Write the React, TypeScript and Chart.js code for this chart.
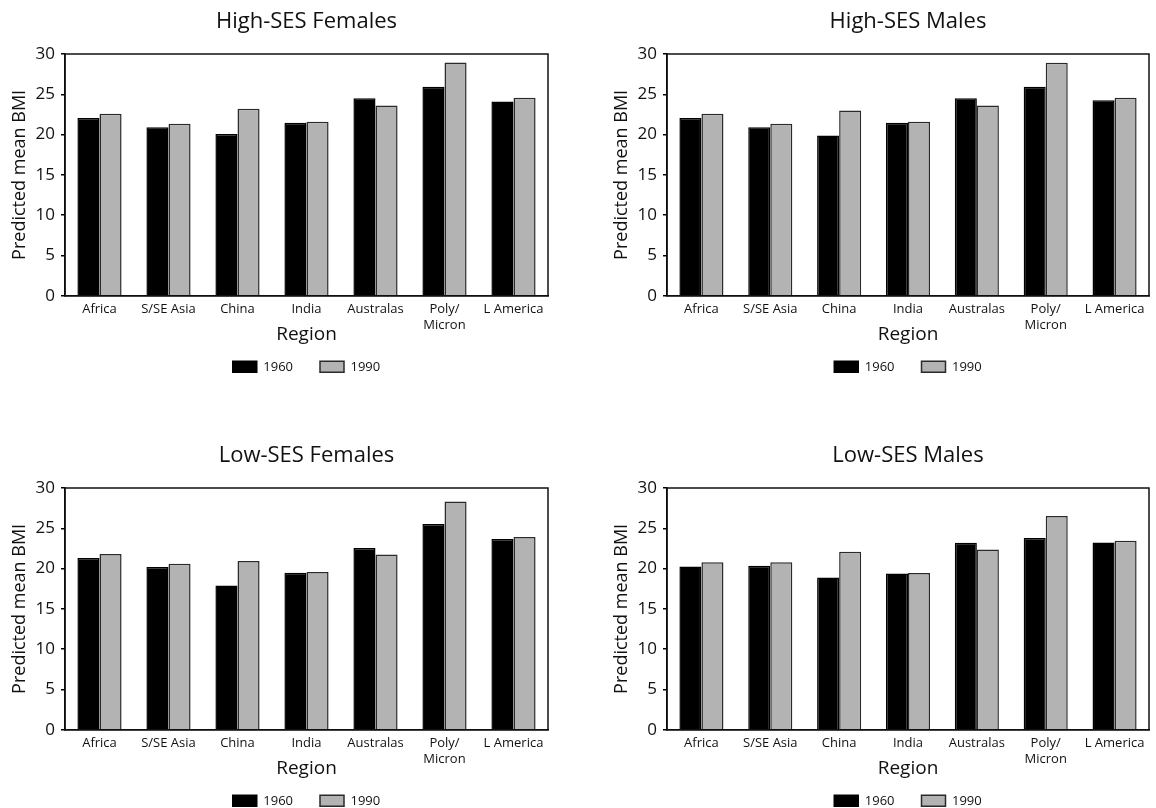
import React, { useEffect, useRef } from "react";
import { Chart, registerables } from "chart.js";

Chart.register(...registerables);

const regions: (string | string[])[] = [
  "Africa",
  "S/SE Asia",
  "China",
  "India",
  "Australas",
  ["Poly/", "Micron"],
  "L America",
];

const seriesLabels = ["1960", "1990"];
const yTicks = [0, 5, 10, 15, 20, 25, 30];

const highFemales1960 = [22.05, 20.9, 20.07, 21.47, 24.5, 25.94, 24.12];
const highFemales1990 = [22.6, 21.35, 23.2, 21.6, 23.6, 28.96, 24.58];
const highMales1960 = [22.05, 20.9, 19.9, 21.47, 24.5, 25.94, 24.25];
const highMales1990 = [22.6, 21.35, 23.0, 21.6, 23.6, 28.92, 24.58];
const lowFemales1960 = [21.3, 20.19, 17.9, 19.49, 22.55, 25.53, 23.67];
const lowFemales1990 = [21.8, 20.6, 20.93, 19.57, 21.76, 28.34, 23.91];
const lowMales1960 = [20.27, 20.36, 18.9, 19.4, 23.2, 23.79, 23.25];
const lowMales1990 = [20.8, 20.8, 22.09, 19.45, 22.38, 26.52, 23.46];

const FONT = "'Open Sans', 'Noto Sans', sans-serif";
const TEXT = "#111";

const framePlugin = {
  id: "frame",
  afterDatasetsDraw(chart: any) {
    const { ctx, chartArea: a } = chart;
    ctx.save();
    ctx.strokeStyle = "#111";
    ctx.lineWidth = 1.5;
    ctx.strokeRect(a.left, a.top, a.right - a.left, a.bottom - a.top);
    ctx.restore();
  },
};

type PanelProps = {
  title: string;
  d1960: number[];
  d1990: number[];
  left: number;
  top: number;
  width: number;
  padRight: number;
};

function Panel({ title, d1960, d1990, left, top, width, padRight }: PanelProps) {
  const ref = useRef<HTMLCanvasElement>(null);
  useEffect(() => {
    if (!ref.current) return;
    const chart = new Chart(ref.current, {
      type: "bar",
      data: {
        labels: regions as any,
        datasets: [
          {
            label: seriesLabels[0],
            data: d1960,
            backgroundColor: "#000000",
            borderColor: "#000000",
            borderWidth: 1.5,
            categoryPercentage: 0.64,
            barPercentage: 1.0,
          },
          {
            label: seriesLabels[1],
            data: d1990,
            backgroundColor: "#b3b3b3",
            borderColor: "#2a2a2a",
            borderWidth: 1.5,
            categoryPercentage: 0.64,
            barPercentage: 1.0,
          },
        ],
      },
      options: {
        responsive: false,
        animation: false,
        events: [],
        layout: { padding: { left: 0, right: padRight, top: 0, bottom: 20.7 } },
        plugins: {
          title: {
            display: true,
            text: title,
            fullSize: false,
            color: TEXT,
            font: { family: FONT, size: 22, weight: "normal" },
            padding: { top: 9, bottom: 18.6 },
          } as any,
          subtitle: {
            display: true,
            text: "Region",
            position: "bottom",
            fullSize: false,
            weight: 500,
            color: TEXT,
            font: { family: FONT, size: 19, weight: "normal" },
            padding: { top: -9.4, bottom: -12.9 },
          } as any,
          legend: {
            position: "bottom",
            fullSize: false,
            weight: 1000,
            labels: {
              boxWidth: 24,
              boxHeight: 11,
              padding: 27,
              color: TEXT,
              font: { family: FONT, size: 13 },
            },
          } as any,
          tooltip: { enabled: false },
        },
        scales: {
          x: {
            grid: { display: false, drawTicks: false },
            border: { display: true, color: "#000", width: 1.5 },
            ticks: {
              color: TEXT,
              font: { family: FONT, size: 13 },
              padding: 6,
              maxRotation: 0,
              autoSkip: false,
            },
            afterFit: (s: any) => {
              s.height = 37;
            },
          },
          y: {
            min: yTicks[0],
            max: yTicks[yTicks.length - 1],
            afterBuildTicks: (s: any) => {
              s.ticks = yTicks.map((v) => ({ value: v }));
            },
            ticks: {
              color: TEXT,
              font: { family: FONT, size: 17 },
              padding: 6,
            },
            grid: {
              drawOnChartArea: false,
              drawTicks: true,
              tickLength: 4,
              color: "#000",
              lineWidth: 1.5,
            },
            border: { display: true, color: "#000", width: 1.5 },
            title: {
              display: true,
              text: "Predicted mean BMI",
              color: TEXT,
              font: { family: FONT, size: 18 },
              padding: { top: 9, bottom: 0 },
            },
            afterFit: (s: any) => {
              s.width = 65;
            },
          },
        },
      } as any,
      plugins: [framePlugin],
    });
    return () => chart.destroy();
  }, []);
  return (
    <canvas
      ref={ref}
      width={width}
      height={404}
      style={{ position: "absolute", left, top, width, height: 404, display: "block" }}
    />
  );
}

export default function App() {
  return (
    <div
      style={{
        position: "absolute",
        left: 0,
        top: 0,
        width: 1156,
        height: 808,
        overflow: "hidden",
        background: "#fff",
      }}
    >
      <Panel title="High-SES Females" d1960={highFemales1960} d1990={highFemales1990} left={0} top={0} width={578} padRight={30} />
      <Panel title="High-SES Males" d1960={highMales1960} d1990={highMales1990} left={602} top={0} width={554} padRight={7} />
      <Panel title="Low-SES Females" d1960={lowFemales1960} d1990={lowFemales1990} left={0} top={434} width={578} padRight={30} />
      <Panel title="Low-SES Males" d1960={lowMales1960} d1990={lowMales1990} left={602} top={434} width={554} padRight={7} />
    </div>
  );
}
